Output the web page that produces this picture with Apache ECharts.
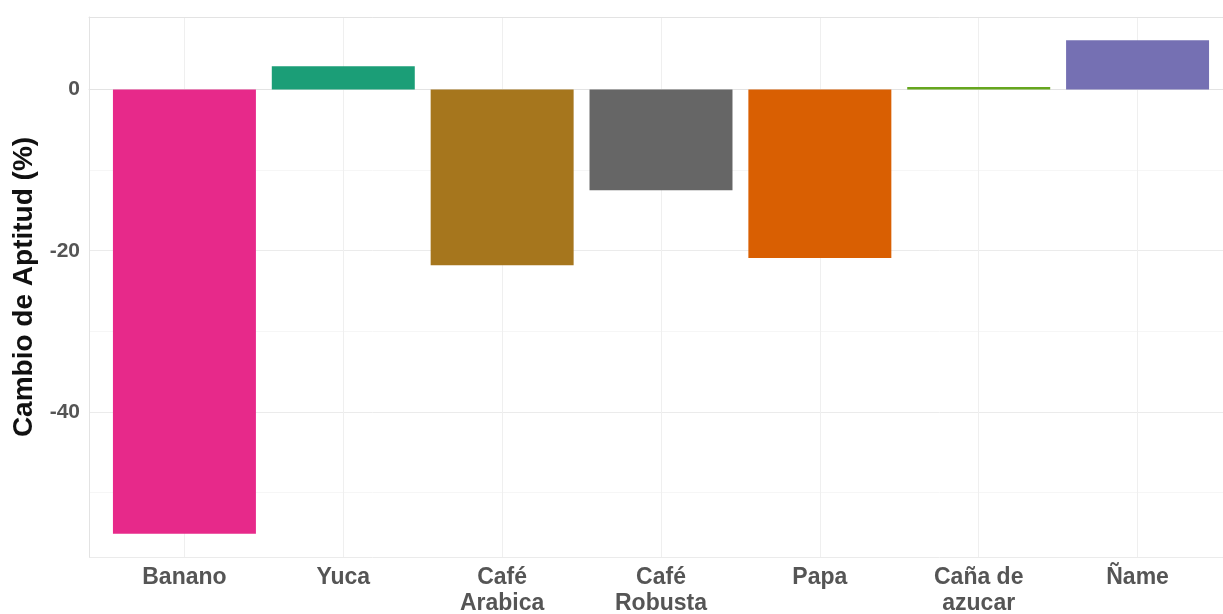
<!DOCTYPE html>
<html>
<head>
<meta charset="utf-8">
<script src="https://cdn.jsdelivr.net/npm/echarts@6/dist/echarts.min.js"></script>
<style>html,body{margin:0;padding:0;background:#fff}#c{width:1223px;height:614px}</style>
</head>
<body>
<div id="c"></div>
<script>
const categories = ['Banano', 'Yuca', 'Café\nArabica', 'Café\nRobusta', 'Papa', 'Caña de\nazucar', 'Ñame'];
const values = [-55.1, 2.9, -21.8, -12.5, -20.9, 0.3, 6.1];
const colors = ['#E7298A', '#1B9E77', '#A6761D', '#666666', '#D95F02', '#66A61E', '#7570B3'];
const yLabels = [0, -20, -40];
const yMin = -58, yMax = 9;

const FONT = 'Liberation Sans, Arial, sans-serif';
const frameLine = {show: true, lineStyle: {color: '#e3e3e3', width: 1}};
const chart = echarts.init(document.getElementById('c'));
chart.setOption({
  animation: false,
  grid: [
    {left: 105, right: 6, top: 17, bottom: 57, containLabel: false, outerBoundsMode: 'none'},
    {left: 89, right: 0, top: 17, bottom: 57, show: false, containLabel: false, outerBoundsMode: 'none'}
  ],
  xAxis: [
    {type: 'category', gridIndex: 0, data: categories,
     axisLine: {show: false}, axisTick: {show: false},
     splitLine: {show: true, alignWithLabel: true, lineStyle: {color: '#efefef', width: 1}},
     axisLabel: {fontFamily: FONT, fontSize: 23, fontWeight: 'bold', color: '#555555', lineHeight: 26, margin: 8, interval: 0}},
    {type: 'value', gridIndex: 1, position: 'bottom', min: 0, max: 1, axisLine: frameLine, axisTick: {show: false}, axisLabel: {show: false}, splitLine: {show: false}},
    {type: 'value', gridIndex: 1, position: 'top', min: 0, max: 1, axisLine: frameLine, axisTick: {show: false}, axisLabel: {show: false}, splitLine: {show: false}}
  ],
  yAxis: [
    {type: 'value', gridIndex: 0, min: yMin, max: yMax, show: false, splitLine: {show: false}},
    {type: 'value', gridIndex: 1, min: yMin, max: yMax, splitNumber: 7,
     axisLine: frameLine, axisTick: {show: false},
     splitLine: {show: true, lineStyle: {color: ['#ebebeb', '#f6f6f6'], width: 1}},
     axisLabel: {fontFamily: FONT, fontSize: 21, fontWeight: 'bold', color: '#555555', margin: 9, showMinLabel: false, showMaxLabel: false,
       formatter: function (v) { return yLabels.indexOf(v) >= 0 ? String(v) : ''; }},
     name: 'Cambio de Aptitud (%)', nameLocation: 'middle', nameGap: 38, nameRotate: 90,
     nameTextStyle: {fontFamily: FONT, fontSize: 28, fontWeight: 'bold', color: '#111111'}}
  ],
  series: [{
    type: 'bar', xAxisIndex: 0, yAxisIndex: 0, barCategoryGap: '10%', z: 3,
    data: values.map((v, i) => ({value: v, itemStyle: {color: colors[i]}}))
  }]
});
</script>
</body>
</html>
